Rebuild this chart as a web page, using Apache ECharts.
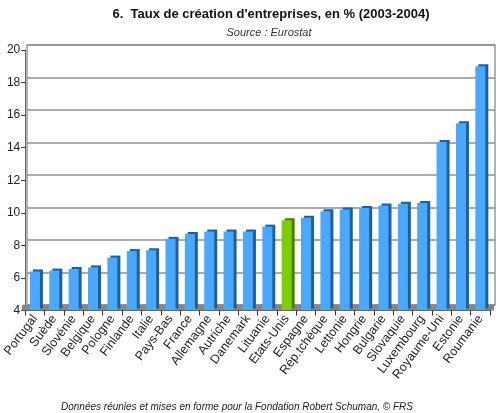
<!DOCTYPE html>
<html>
<head>
<meta charset="utf-8">
<script src="https://cdn.jsdelivr.net/npm/echarts@6/dist/echarts.min.js"></script>
<style>
  html, body { margin: 0; padding: 0; background: #fff; }
  #main { width: 500px; height: 413px; }
</style>
</head>
<body>
<div id="main"></div>
<script>
var pays = ['Portugal', 'Suède', 'Slovénie', 'Belgique', 'Pologne', 'Finlande', 'Italie', 'Pays-Bas',
    'France', 'Allemagne', 'Autriche', 'Danemark', 'Lituanie', 'Etats-Unis', 'Espagne', 'Rép.tchèque',
    'Lettonie', 'Hongrie', 'Bulgarie', 'Slovaquie', 'Luxembourg', 'Royaume-Uni', 'Estonie', 'Roumanie'];
var taux = [6.4, 6.45, 6.55, 6.65, 7.25, 7.65, 7.7, 8.4, 8.7, 8.85, 8.85, 8.85,
    9.15, 9.55, 9.7, 10.1, 10.2, 10.3, 10.45, 10.55, 10.6, 14.35, 15.5, 19.0];
var yTicks = [4, 6, 8, 10, 12, 14, 16, 18, 20];
var highlight = 'Etats-Unis';

var myChart = echarts.init(document.getElementById('main'));

var barData = [];
for (var i = 0; i < pays.length; i++) {
    if (pays[i] === highlight) {
        barData.push({value: taux[i], itemStyle: {color: '#7fcc00', shadowColor: '#4a7f00'}});
    } else {
        barData.push(taux[i]);
    }
}

var option = {
    backgroundColor: '#fff',
    title: [{
        text: '6.  Taux de création d\'entreprises, en % (2003-2004)',
        left: 266, top: 3, textAlign: 'center',
        textStyle: {fontFamily: 'Liberation Sans', fontSize: 13, fontWeight: 'bold', color: '#111'}
    }, {
        text: 'Source : Eurostat',
        left: 264, top: 22, textAlign: 'center',
        textStyle: {fontFamily: 'Liberation Sans', fontSize: 11, fontStyle: 'italic', fontWeight: 'normal', color: '#333'}
    }, {
        text: 'Données réunies et mises en forme pour la Fondation Robert Schuman, © FRS',
        left: 232, top: 397, textAlign: 'center',
        textStyle: {fontFamily: 'Liberation Sans', fontSize: 10, fontStyle: 'italic', fontWeight: 'normal', color: '#222'}
    }],
    grid: [
        // front: axes and bars
        {left: 21, right: 10, top: 50, bottom: 102.5},
        // back wall, drawn slightly up and right
        {left: 27, right: 5, top: 45, bottom: 108, show: true, borderColor: '#9a9a9a', borderWidth: 1.5, z: 0}
    ],
    xAxis: [{
        type: 'category', data: pays, gridIndex: 0,
        axisLine: {lineStyle: {color: '#666', width: 1}},
        axisTick: {show: true, length: 5, lineStyle: {color: '#333'}},
        axisLabel: {rotate: 53, interval: 0, margin: 6, fontFamily: 'Liberation Sans', fontSize: 12.5, color: '#222'},
        z: 5
    }, {
        type: 'category', data: pays, gridIndex: 1,
        axisLine: {show: false}, axisTick: {show: false}, axisLabel: {show: false}
    }],
    yAxis: [{
        type: 'value', gridIndex: 0, min: 4, max: 20, interval: 2,
        axisLine: {show: true, lineStyle: {color: '#666'}},
        axisTick: {show: true, length: 4, lineStyle: {color: '#333'}},
        splitLine: {show: false},
        axisLabel: {
            margin: 5, fontFamily: 'Liberation Sans', fontSize: 12, color: '#222',
            formatter: function (v) { return yTicks.indexOf(v) >= 0 ? v : ''; }
        }
    }, {
        type: 'value', gridIndex: 1, min: 4, max: 20, interval: 2,
        axisLine: {show: false}, axisTick: {show: false}, axisLabel: {show: false},
        splitLine: {show: true, lineStyle: {color: '#8f8f8f', width: 1.5}}
    }],
    series: [{
        // floor of the chart
        type: 'line', xAxisIndex: 0, yAxisIndex: 0, data: [], z: 1, silent: true,
        markArea: {
            silent: true,
            itemStyle: {color: '#858585'},
            data: [[{yAxis: 4, x: 22}, {yAxis: 4.35, x: 494}]]
        }
    }, {
        name: 'Taux', type: 'bar', xAxisIndex: 0, yAxisIndex: 0,
        data: barData, barWidth: 10, z: 3,
        itemStyle: {
            color: '#4ba8ff',
            shadowColor: '#1f5f9f', shadowBlur: 0, shadowOffsetX: 3, shadowOffsetY: -2
        }
    }]
};
myChart.setOption(option);
window.onresize = myChart.resize;
</script>
</body>
</html>
